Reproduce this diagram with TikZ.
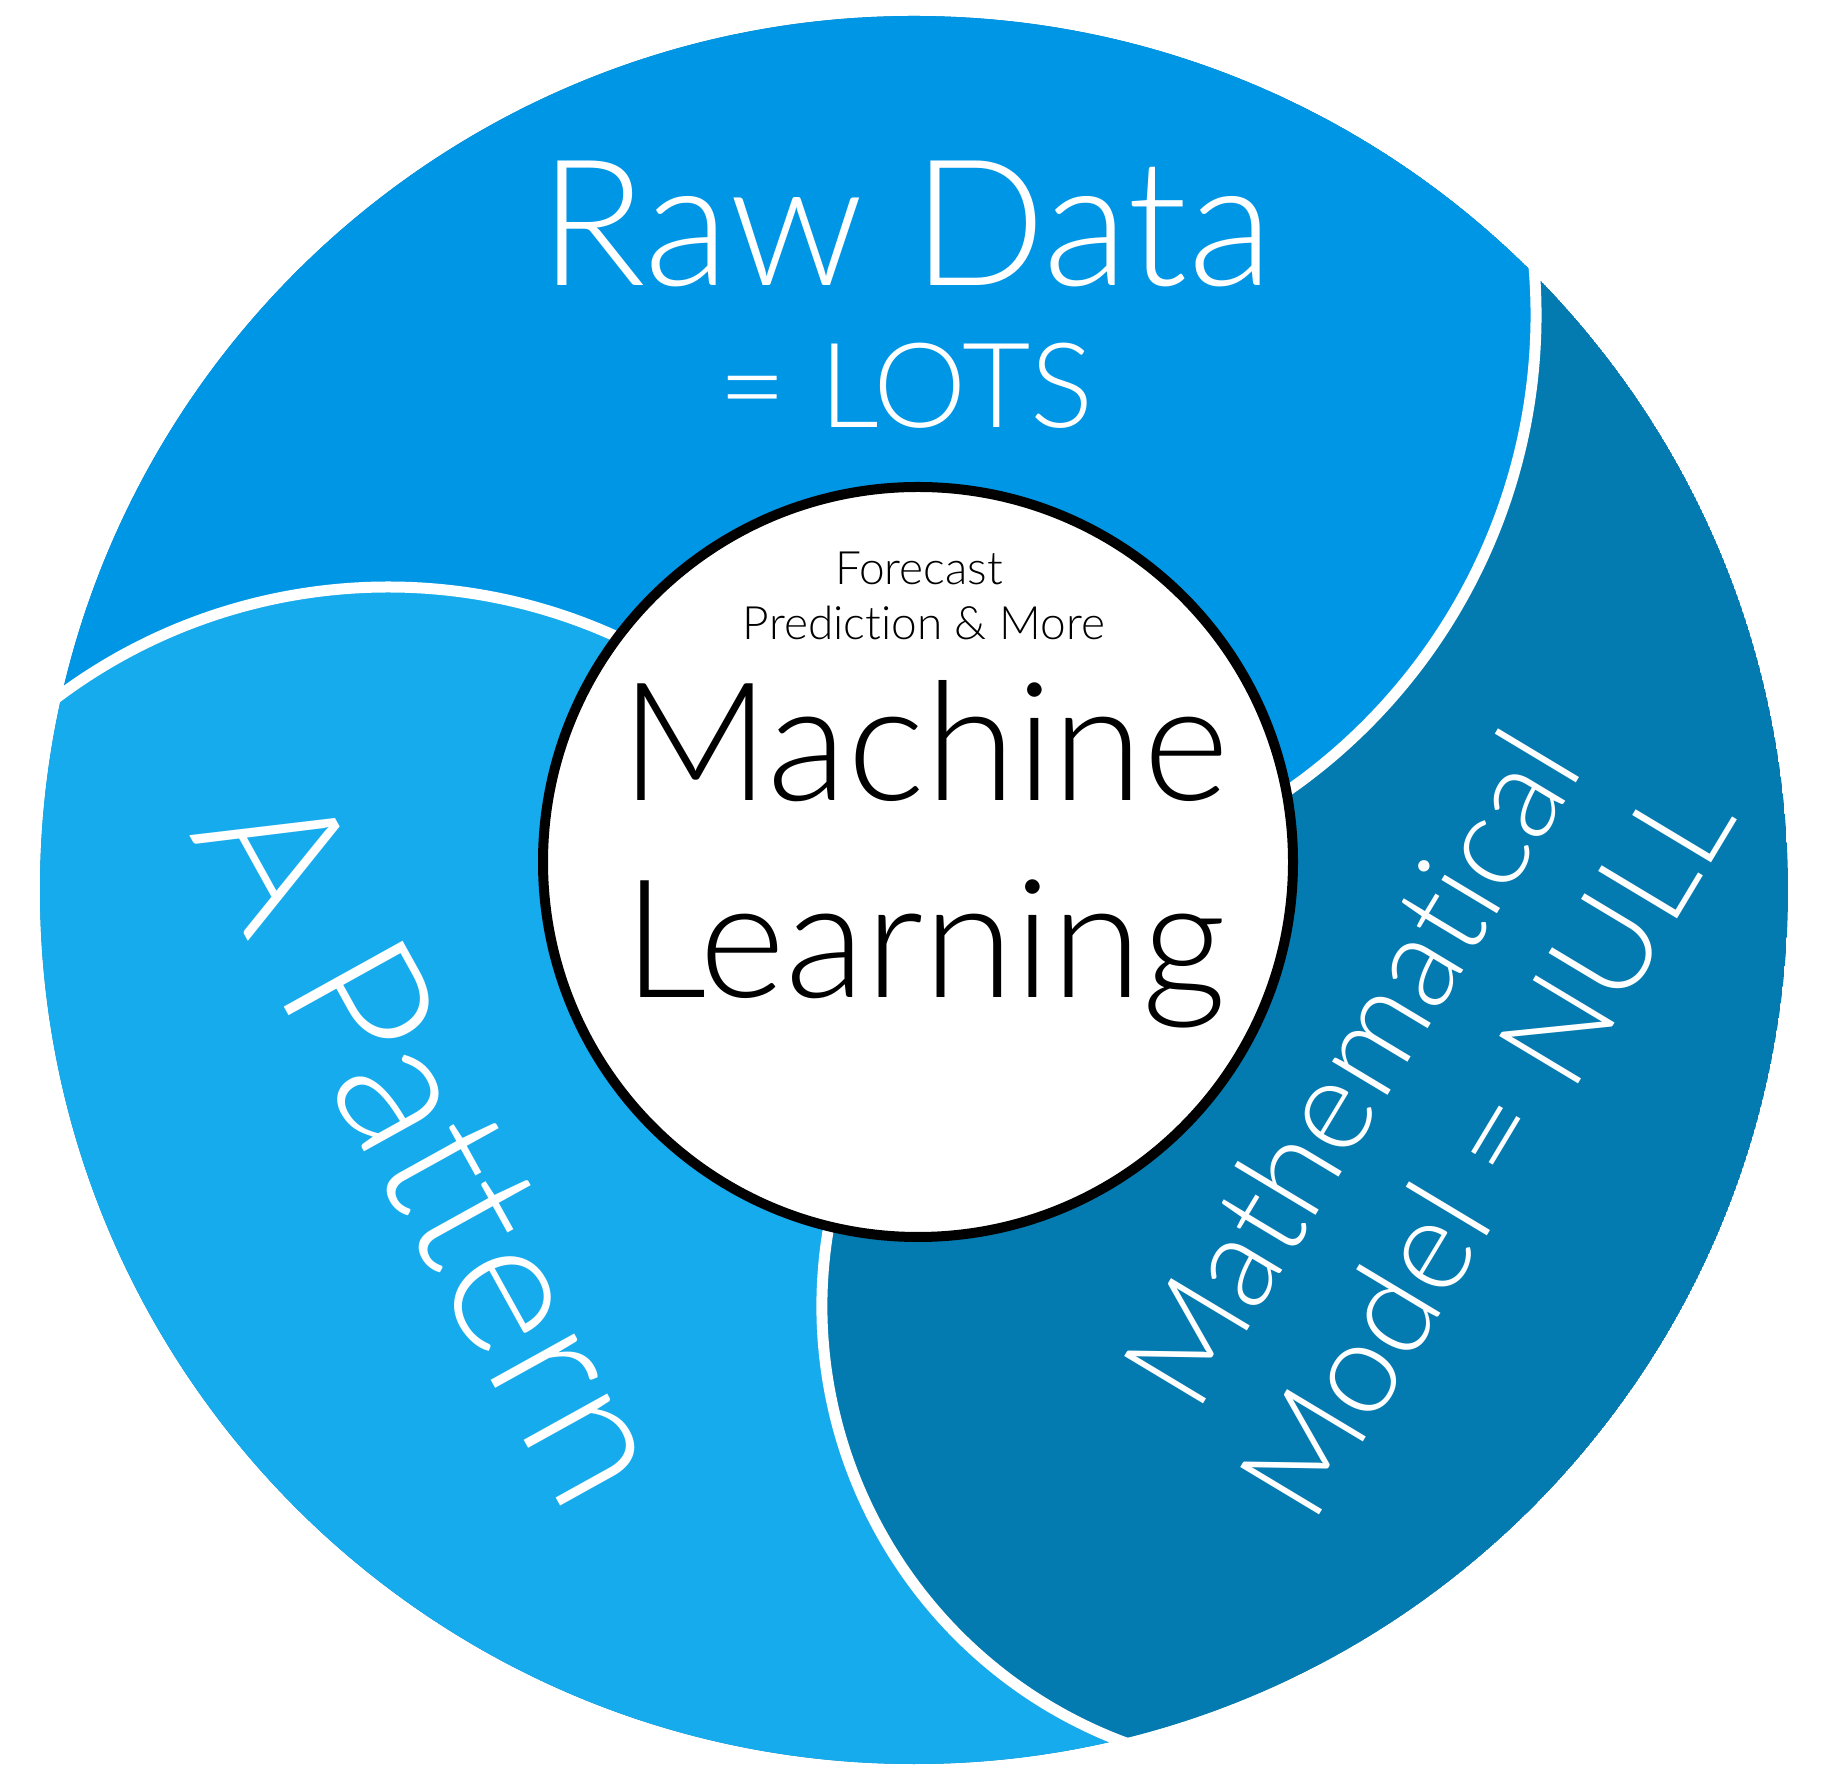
\documentclass[tikz,border=0pt]{standalone}
\usepackage{fontspec}
\setmainfont{Lato Light}[Ligatures=CommonOff]
\usepackage{tikz}
\usetikzlibrary{positioning}
\definecolor{topblue}{HTML}{0096E6}
\definecolor{leftblue}{HTML}{16ABED}
\definecolor{rightblue}{HTML}{037AB0}

\begin{document}
\begin{tikzpicture}[x=1pt, y=1pt,
  whitetext/.style={text=white, inner sep=0pt, anchor=base},
  blacktext/.style={text=black, inner sep=0pt, anchor=base},
  border/.style={white, line width=11pt}]
\useasboundingbox (0,0) rectangle (1830,1780);
\coordinate (o) at (914,890);
\coordinate (ca) at (956,1465);
\coordinate (cb) at (388,642);
\coordinate (cc) at (1288,474);
\coordinate (ci) at (918,918);
\coordinate (aout) at ([shift={(12:580)}]ca);
\coordinate (bout) at ([shift={(132:551)}]cb);
\coordinate (bin) at ([shift={(60:551)}]cb);
\coordinate (cin) at ([shift={(165:466)}]cc);

% the three parts
\begin{scope}
\clip (o) circle (874);
\fill[rightblue] (o) circle (874);
\fill[topblue] (aout) arc (12:-60:580) -- (bin) arc (60:130:551)
  -- (-100,1060) -- (-100,1900) -- (1900,1900) -- (1900,1586) -- cycle;
\fill[leftblue] (bout) arc (132:60:551) -- (cin) arc (165:255:466)
  -- (1170,-100) -- (-100,-100) -- (-100,1051) -- cycle;
\end{scope}

% white borders between them
\draw[border] (aout) arc (12:-60:580);
\draw[border] (bout) arc (132:60:551);
\draw[border] (cin) arc (165:255:466);

% centre
\filldraw[fill=white, draw=black, line width=10pt] (ci) circle (375);

\node[whitetext, font=\fontsize{176}{176}\selectfont] (raw) at (906,1494) {Raw Data};
\node[whitetext, font=\fontsize{118}{118}\selectfont] (lots) at (906,1352.5) {= LOTS};

\node[blacktext, font=\fontsize{46}{46}\selectfont] (forecast) at (919,1195) {Forecast};
\node[blacktext, font=\fontsize{46}{46}\selectfont] (more) at (924,1140) {Prediction \& More};
\node[blacktext, font=\fontsize{165}{165}\selectfont] (machine) at (925,979) {Machine};
\node[blacktext, font=\fontsize{165}{165}\selectfont] (learning) at (925,782) {Learning};

\begin{scope}[shift={(378,604)}, rotate=-61]
\node[whitetext, transform shape, font=\fontsize{192}{192}\selectfont] (pattern) at (0,0) {A Pattern};
\end{scope}

\begin{scope}[shift={(1458,648)}, rotate=59]
\node[whitetext, transform shape, font=\fontsize{130}{130}\selectfont] (math) at (0,78.5) {Mathematical};
\node[whitetext, transform shape, font=\fontsize{130}{130}\selectfont] (model) at (0,-78.5) {Model = NULL};
\end{scope}
\end{tikzpicture}
\end{document}
